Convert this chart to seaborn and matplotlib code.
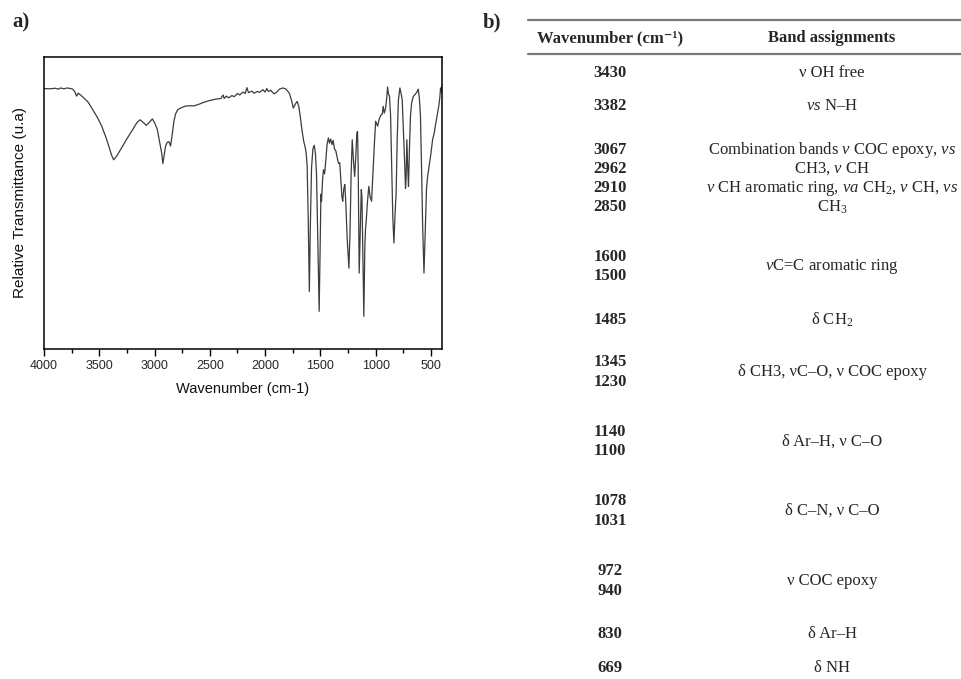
import matplotlib
matplotlib.use("Agg")
import matplotlib.pyplot as plt
import seaborn as sns
import numpy as np
import pandas as pd

# FTIR spectrum (wavenumber in cm-1, relative transmittance 0-100)
wavenumber = [4000, 3950, 3900, 3870, 3850, 3820, 3790, 3760, 3740, 3720, 3705, 3690, 3670, 3640,
              3600, 3560, 3520, 3480, 3440, 3410, 3390, 3370, 3340, 3300, 3250, 3200, 3160, 3130,
              3100, 3075, 3050, 3020, 3000, 2975, 2960, 2945, 2935, 2925, 2915, 2900, 2885, 2870,
              2855, 2840, 2825, 2810, 2790, 2760, 2720, 2680, 2640, 2600, 2560, 2520, 2480, 2440,
              2400, 2380, 2370, 2350, 2330, 2300, 2280, 2250, 2230, 2200, 2180, 2165, 2150, 2120,
              2100, 2070, 2050, 2020, 2000, 1985, 1970, 1950, 1920, 1900, 1870, 1840, 1810, 1780,
              1760, 1745, 1725, 1710, 1695, 1680, 1665, 1650, 1640, 1630, 1620, 1610, 1600, 1592,
              1580, 1568, 1556, 1545, 1535, 1525, 1511, 1500, 1495, 1490, 1480, 1472, 1462, 1450,
              1440, 1428, 1418, 1408, 1395, 1385, 1372, 1360, 1345, 1335, 1325, 1315, 1305, 1298,
              1288, 1279, 1270, 1258, 1242, 1232, 1222, 1212, 1200, 1190, 1180, 1170, 1164, 1158,
              1149, 1140, 1130, 1124, 1115, 1107, 1098, 1092, 1085, 1075, 1062, 1050, 1037, 1025,
              1012, 1000, 990, 982, 970, 955, 940, 932, 922, 910, 900, 892, 885, 875, 865, 855,
              845, 835, 825, 815, 805, 795, 781, 770, 760, 750, 740, 730, 725, 718, 710, 703, 695,
              685, 675, 660, 645, 630, 615, 605, 595, 585, 575, 563, 552, 540, 530, 515, 500, 485,
              470, 460, 445, 430, 420, 413, 405, 400]
transmittance = [89.2, 89.1, 89.3, 89.0, 89.4, 89.1, 89.4, 89.2, 89.0, 88.0, 86.6, 87.6, 87.0, 86.0,
                 84.5, 82.0, 79.5, 76.5, 72.5, 69.0, 66.5, 64.8, 66.2, 68.8, 72.0, 75.0, 77.5, 78.5,
                 77.5, 76.6, 77.5, 78.8, 77.5, 75.2, 72.0, 69.0, 67.0, 63.5, 66.0, 69.5, 70.8, 71.0,
                 69.5, 73.5, 78.0, 80.5, 82.0, 82.6, 83.2, 83.3, 83.3, 83.8, 84.4, 84.9, 85.3, 85.6,
                 85.8, 87.0, 85.8, 86.6, 86.0, 86.8, 86.4, 87.5, 87.0, 88.0, 87.5, 89.5, 87.8, 88.3,
                 87.6, 88.2, 87.9, 88.8, 88.0, 89.2, 88.2, 88.6, 87.4, 87.8, 89.0, 89.4, 89.0, 87.5,
                 85.0, 82.5, 84.0, 84.8, 83.0, 79.0, 74.5, 71.0, 69.5, 67.5, 63.0, 45.0, 19.7, 40.0,
                 62.0, 68.5, 69.8, 67.0, 60.0, 40.0, 12.9, 40.0, 53.0, 50.5, 58.0, 61.4, 60.0, 65.0,
                 70.0, 72.3, 70.5, 71.9, 70.0, 71.5, 68.5, 67.8, 65.0, 63.5, 63.8, 58.0, 52.0, 50.6,
                 55.0, 56.3, 50.0, 38.0, 27.7, 40.0, 60.0, 71.7, 64.0, 59.1, 66.0, 74.0, 74.5, 62.0,
                 26.0, 40.0, 54.6, 52.0, 30.0, 11.2, 35.0, 41.0, 44.0, 50.0, 55.7, 52.0, 50.6, 60.0,
                 70.0, 78.0, 77.0, 76.3, 78.5, 80.0, 80.5, 83.1, 80.8, 82.5, 86.0, 89.7, 87.5, 86.5,
                 80.0, 62.0, 45.0, 36.3, 46.0, 53.4, 72.0, 85.0, 89.4, 87.5, 85.4, 76.0, 66.0, 55.0,
                 58.0, 71.7, 62.0, 55.7, 68.0, 80.0, 84.2, 86.5, 87.1, 87.8, 89.0, 86.0, 80.0, 62.0,
                 42.0, 26.0, 40.0, 55.0, 59.1, 63.0, 67.0, 71.7, 74.0, 76.5, 79.7, 83.0, 86.0, 89.4,
                 88.0, 90.5]

xticks = [4000, 3500, 3000, 2500, 2000, 1500, 1000, 500]

# table b)
header = ["Wavenumber (cm⁻¹)", "Band assignments"]
band_numbers = ["3430", "3382", "3067", "2962", "2910", "2850", "1600", "1500", "1485",
                "1345", "1230", "1140", "1100", "1078", "1031", "972", "940", "830", "669"]
band_lines = [
    "ν OH free",
    r"$\nu s$ N–H",
    r"Combination bands $\nu$ COC epoxy, $\nu s$",
    r"CH3, $\nu$ CH",
    r"$\nu$ CH aromatic ring, $\nu a$ CH$_\mathrm{2}$, $\nu$ CH, $\nu s$",
    r"CH$_\mathrm{3}$",
    r"$\nu$C=C aromatic ring",
    r"δ CH$_\mathrm{2}$",
    "δ CH3, νC–O, ν COC epoxy",
    "δ Ar–H, ν C–O",
    "δ C–N, ν C–O",
    "ν COC epoxy",
    "δ Ar–H",
    "δ NH",
]
# vertical layout of the table rows (pixels from top)
number_y = [73, 106, 150, 169, 188, 207, 257, 276, 320, 362, 382, 432, 451, 501, 521, 571, 591, 634, 668]
line_y = [73, 106, 150, 169, 188, 207, 267, 320, 372, 442, 511, 581, 634, 668]

sns.set_theme(style="ticks")
plt.rcParams["font.family"] = ["Liberation Sans", "DejaVu Sans"]
plt.rcParams["mathtext.fontset"] = "custom"
plt.rcParams["mathtext.rm"] = "Liberation Serif"
plt.rcParams["mathtext.it"] = "Liberation Serif:italic"
plt.rcParams["mathtext.bf"] = "Liberation Serif:bold"

W, H = 961, 679
fig = plt.figure(figsize=(W / 100, H / 100), dpi=100)

# spectrum panel
ax = fig.add_axes([44 / W, 1 - 349 / H, 398 / W, 292 / H])
df = pd.DataFrame({"wavenumber": wavenumber, "transmittance": transmittance})
sns.lineplot(data=df, x="wavenumber", y="transmittance", ax=ax, color="#3c3c3c",
             linewidth=0.9, estimator=None, sort=False)
ax.set_xlim(4000, 400)
ax.set_ylim(0, 100)
ax.set_xticks(xticks)
ax.set_xticks(np.arange(3750, 400, -500), minor=True)
ax.set_yticks([])
ax.tick_params(axis="x", which="major", length=5, width=1, labelsize=9, pad=3, color="black")
ax.tick_params(axis="x", which="minor", length=3, width=1, color="black")
for s in ax.spines.values():
    s.set_color("black")
    s.set_linewidth(1.1)
ax.set_xlabel("Wavenumber (cm-1)", fontsize=10.5, labelpad=7, color="#111111")
ax.set_ylabel("Relative Transmittance (u.a)", fontsize=11, labelpad=12, color="#111111")

# table panel drawn in pixel coordinates
tab = fig.add_axes([0, 0, 1, 1], zorder=-1)
tab.set_xlim(0, W)
tab.set_ylim(H, 0)
tab.axis("off")
serif = ["Liberation Serif", "DejaVu Serif"]

fig.text(12 / W, 1 - 22 / H, "a)", fontsize=15, fontweight="bold", family=serif, va="center")
fig.text(483 / W, 1 - 22 / H, "b)", fontsize=15, fontweight="bold", family=serif, va="center")

tab.plot([528, W], [20, 20], color="#7a7a7a", lw=1.6)
tab.plot([528, W], [54, 54], color="#7a7a7a", lw=1.6)
col1_x, col2_x = 610, 832
tab.text(col1_x, 38, header[0], ha="center", va="center", fontsize=12, fontweight="bold", family=serif)
tab.text(col2_x, 38, header[1], ha="center", va="center", fontsize=12, fontweight="bold", family=serif)
for num, y in zip(band_numbers, number_y):
    tab.text(col1_x, y, num, ha="center", va="center", fontsize=12, fontweight="bold", family=serif)
for line, y in zip(band_lines, line_y):
    tab.text(col2_x, y, line, ha="center", va="center", fontsize=12, family=serif)

fig.savefig("out.png", dpi=100)
